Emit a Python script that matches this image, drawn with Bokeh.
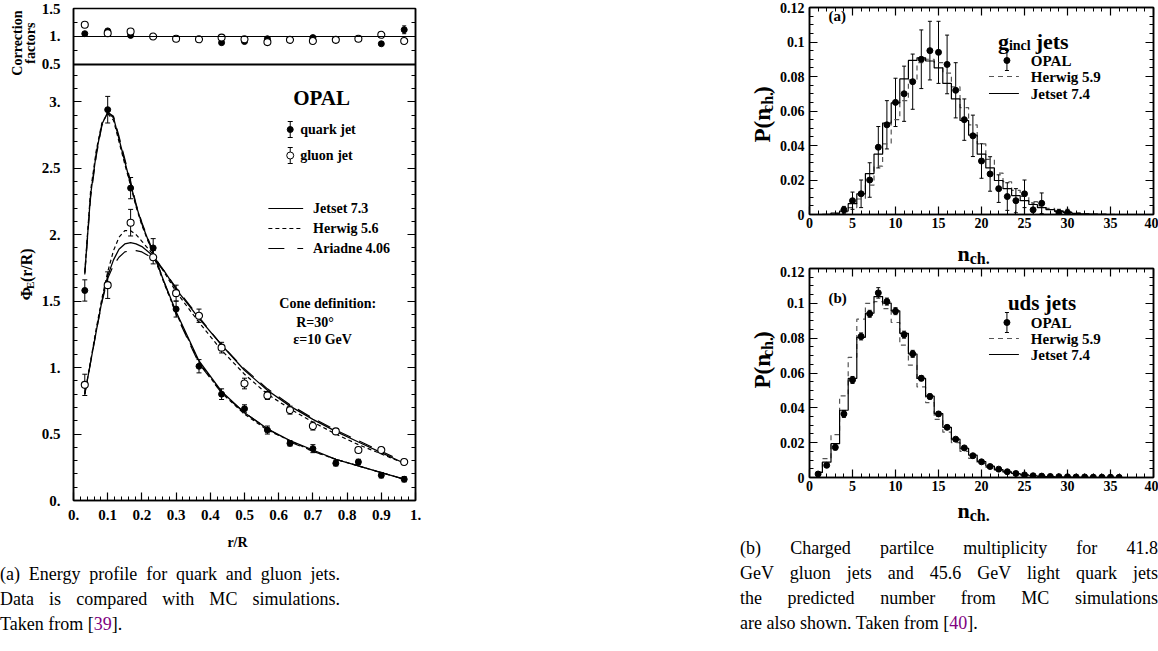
import math
from bokeh.plotting import figure
from bokeh.models import (Range1d, LinearAxis, FixedTicker, Label, Div, Spacer,
                          ColumnDataSource, Whisker, TeeHead, Span, CustomJSTickFormatter)
from bokeh.layouts import column, row
from bokeh.core.properties import value
from bokeh.embed import file_html
from bokeh.resources import INLINE

SERIF = "Liberation Serif"

# ---------------------------------------------------------------- data (left)
R_BINS = [0.033, 0.100, 0.167, 0.233, 0.300, 0.367, 0.433, 0.500, 0.567, 0.633, 0.700, 0.767, 0.833, 0.900, 0.967]
QUARK_PHI = [1.58, 2.94, 2.35, 1.90, 1.44, 1.01, 0.80, 0.69, 0.53, 0.43, 0.39, 0.28, 0.29, 0.19, 0.16]
QUARK_ERR = [0.08, 0.10, 0.08, 0.07, 0.06, 0.05, 0.04, 0.03, 0.03, 0.02, 0.03, 0.02, 0.02, 0.02, 0.02]
GLUON_PHI = [0.87, 1.62, 2.09, 1.83, 1.56, 1.39, 1.15, 0.88, 0.79, 0.68, 0.56, 0.52, 0.38, 0.38, 0.29]
GLUON_ERR = [0.08, 0.10, 0.10, 0.05, 0.06, 0.05, 0.04, 0.04, 0.03, 0.03, 0.03, 0.02, 0.02, 0.02, 0.02]

QUARK_CORR = [1.05, 1.10, 1.02, 1.00, 0.96, 0.95, 0.89, 0.91, 0.96, 0.94, 0.98, 0.94, 0.96, 0.87, 1.12]
QUARK_CORR_ERR = [0.01, 0.01, 0.01, 0.01, 0.01, 0.01, 0.01, 0.01, 0.01, 0.01, 0.01, 0.01, 0.01, 0.01, 0.07]
GLUON_CORR = [1.21, 1.06, 1.09, 1.00, 0.96, 0.95, 0.98, 0.95, 0.90, 0.94, 0.92, 0.94, 0.96, 1.03, 0.92]

R_CURVE = [0.033, 0.050, 0.067, 0.083, 0.100, 0.117, 0.133, 0.150, 0.167, 0.183, 0.200, 0.233,
           0.267, 0.300, 0.367, 0.433, 0.500, 0.567, 0.633, 0.700, 0.767, 0.833, 0.900, 0.967]
QUARK_JETSET = [1.71, 2.30, 2.62, 2.83, 2.92, 2.88, 2.72, 2.55, 2.38, 2.22, 2.08, 1.86,
                1.63, 1.42, 1.05, 0.82, 0.66, 0.54, 0.45, 0.38, 0.31, 0.26, 0.21, 0.16]
QUARK_HERWIG = [1.72, 2.33, 2.64, 2.84, 2.91, 2.86, 2.70, 2.53, 2.37, 2.21, 2.07, 1.85,
                1.62, 1.41, 1.04, 0.81, 0.65, 0.53, 0.45, 0.37, 0.31, 0.26, 0.21, 0.16]
QUARK_ARIADNE = [1.70, 2.28, 2.60, 2.82, 2.92, 2.89, 2.74, 2.57, 2.40, 2.23, 2.09, 1.87,
                 1.63, 1.40, 1.03, 0.81, 0.66, 0.54, 0.44, 0.37, 0.31, 0.26, 0.21, 0.16]
GLUON_JETSET = [0.80, 1.04, 1.28, 1.50, 1.69, 1.81, 1.89, 1.93, 1.94, 1.93, 1.91, 1.84,
                1.72, 1.59, 1.37, 1.17, 0.98, 0.83, 0.71, 0.61, 0.52, 0.44, 0.36, 0.28]
GLUON_HERWIG = [0.80, 1.05, 1.30, 1.52, 1.72, 1.88, 1.98, 2.03, 2.03, 2.00, 1.95, 1.85,
                1.71, 1.57, 1.34, 1.13, 0.95, 0.80, 0.69, 0.59, 0.50, 0.42, 0.35, 0.28]
GLUON_ARIADNE = [0.80, 1.04, 1.28, 1.49, 1.67, 1.77, 1.83, 1.87, 1.88, 1.88, 1.87, 1.82,
                 1.72, 1.60, 1.38, 1.17, 0.99, 0.84, 0.72, 0.62, 0.53, 0.45, 0.37, 0.29]

R_TICKS = [0.0, 0.1, 0.2, 0.3, 0.4, 0.5, 0.6, 0.7, 0.8, 0.9, 1.0]
R_MINOR = [k / 50 for k in range(51)]
PHI_TICKS = [0.0, 0.5, 1.0, 1.5, 2.0, 2.5, 3.0]
PHI_MINOR = [k / 10 for k in range(33)]
CORR_TICKS = [0.5, 1.0, 1.5]
CORR_MINOR = [0.75, 1.25]

# ---------------------------------------------------------------- data (right)
N_A_DATA = [4, 5, 6, 7, 8, 9, 10, 11, 12, 13, 14, 15, 16, 17, 18, 19, 20, 21, 22, 23, 24, 25, 26, 27, 29, 30]
OPAL_A = [0.0027, 0.008, 0.012, 0.020, 0.039, 0.052, 0.065, 0.070, 0.077, 0.090, 0.095, 0.094, 0.087,
          0.072, 0.055, 0.0456, 0.031, 0.0235, 0.015, 0.0104, 0.008, 0.012, 0.0027, 0.0065, 0.001, 0.001]
ERR_A = [0.002, 0.005, 0.008, 0.010, 0.012, 0.014, 0.014, 0.016, 0.016, 0.017, 0.017, 0.018, 0.017,
         0.016, 0.012, 0.012, 0.010, 0.010, 0.008, 0.008, 0.007, 0.008, 0.004, 0.006, 0.002, 0.002]

N_MC = [1, 2, 3, 4, 5, 6, 7, 8, 9, 10, 11, 12, 13, 14, 15, 16, 17, 18, 19, 20,
        21, 22, 23, 24, 25, 26, 27, 28, 29, 30, 31, 32, 33, 34, 35, 36, 37, 38]
JETSET_A = [0, 0.0001, 0.0008, 0.002, 0.0063, 0.012, 0.0237, 0.035, 0.053, 0.0647,
            0.0786, 0.0893, 0.0908, 0.089, 0.085, 0.076, 0.067, 0.0545, 0.046, 0.035,
            0.027, 0.0197, 0.015, 0.011, 0.008, 0.0058, 0.004, 0.0028, 0.0018, 0.0012,
            0.0007, 0.0004, 0.0002, 0.0001, 0, 0, 0, 0]
HERWIG_A = [0, 0, 0.0005, 0.0015, 0.004, 0.009, 0.017, 0.028, 0.041, 0.055,
            0.066, 0.078, 0.088, 0.090, 0.088, 0.082, 0.074, 0.062, 0.052, 0.041,
            0.032, 0.024, 0.019, 0.014, 0.0105, 0.0075, 0.005, 0.0035, 0.0022, 0.0014,
            0.0009, 0.0005, 0.0003, 0.0002, 0.0001, 0, 0, 0]

N_B_DATA = [1, 2, 3, 4, 5, 6, 7, 8, 9, 10, 11, 12, 13, 14, 15, 16, 17, 18,
            19, 20, 21, 22, 23, 24, 25, 26, 27, 28, 29, 30, 31, 32, 33, 34, 35, 36]
OPAL_B = [0.002, 0.007, 0.0173, 0.0365, 0.056, 0.081, 0.094, 0.106, 0.101, 0.0955,
          0.082, 0.071, 0.057, 0.0465, 0.0365, 0.0288, 0.022, 0.017, 0.0125, 0.009,
          0.0063, 0.0048, 0.0033, 0.0023, 0.0015, 0.001, 0.0008, 0.0006, 0.0005, 0.0004,
          0.0003, 0.0003, 0.0002, 0.0002, 0.0002, 0.0001]
ERR_B = [0.001, 0.001, 0.0015, 0.002, 0.002, 0.002, 0.002, 0.003, 0.002, 0.002,
         0.002, 0.002, 0.0015, 0.0015, 0.0012, 0.001, 0.001, 0.0008, 0.0008, 0.0006,
         0.0005, 0.0004, 0.0003, 0.0003, 0.0002, 0.0002, 0.0002, 0.0001, 0.0001, 0.0001,
         0.0001, 0.0001, 0.0001, 0.0001, 0.0001, 0.0001]
JETSET_B = [0.003, 0.0088, 0.0194, 0.0386, 0.0569, 0.0805, 0.0943, 0.1039, 0.1001, 0.0957,
            0.0828, 0.0709, 0.0569, 0.0467, 0.0367, 0.0288, 0.022, 0.0168, 0.0128, 0.0092,
            0.0065, 0.0046, 0.0033, 0.0023, 0.0015, 0.001, 0.0007, 0.0005, 0.0003, 0.0002,
            0.0001, 0.0001, 0, 0, 0, 0, 0, 0]
HERWIG_B = [0.003, 0.0108, 0.0246, 0.0469, 0.069, 0.0909, 0.100, 0.101, 0.097, 0.089,
            0.076, 0.0645, 0.052, 0.043, 0.0334, 0.026, 0.020, 0.015, 0.011, 0.008,
            0.0058, 0.0042, 0.003, 0.0021, 0.0014, 0.0009, 0.0006, 0.0004, 0.0003, 0.0002,
            0.0001, 0, 0, 0, 0, 0, 0, 0]

N_TICKS = [0, 5, 10, 15, 20, 25, 30, 35, 40]
N_MINOR = list(range(41))
P_TICKS = [0.0, 0.02, 0.04, 0.06, 0.08, 0.10, 0.12]
P_MINOR = [k * 0.005 for k in range(25)]

# ---------------------------------------------------------------- helpers
GLYPH_W = {'P': 611, '(': 333, ')': 333, 'n': 556, 'c': 444, 'h': 556, '.': 250, 'Φ': 760,
           'E': 667, 'r': 444, '/': 278, 'R': 722, 'g': 500, 'i': 278, 'l': 278, ' ': 250,
           'j': 333, 'e': 444, 't': 333, 's': 389, 'u': 556, 'd': 556}


def text_width(s, size):
    return sum(GLYPH_W.get(ch, 500) for ch in s) * size / 1000.0


# left panel geometry: one frame holding the energy profile (main range) and,
# on top, the correction-factor strip (its own "corr" range)
PANEL_SPLIT = 3.28          # top of the energy-profile panel, in main units
CORR_UNIT = 0.42127         # one correction-factor unit expressed in main units
LEFT_TOP = PANEL_SPLIT + CORR_UNIT


def corr_to_main(v):
    return PANEL_SPLIT + (v - CORR_TICKS[0]) * CORR_UNIT


LEFT_FMT = """
let v = tick;
if (tick > %f) { v = %f + (tick - %f) / %f; }
v = Math.round(v * 100) / 100;
const s = v.toString();
return s.indexOf('.') >= 0 ? s : s + '.';
""" % (PANEL_SPLIT - 0.05, CORR_TICKS[0], PANEL_SPLIT, CORR_UNIT)
R_FMT = """
const v = Math.round(tick * 100) / 100;
const s = v.toString();
return s.indexOf('.') >= 0 ? s : s + '.';
"""
P_FMT = "return (Math.round(tick * 1000) / 1000).toString();"
N_FMT = "return Math.round(tick).toString();"
EMPTY_FMT = "return '';"


class Panel:
    """Figure with the absolute page position of its frame, for placing in-frame texts."""

    def __init__(self, fig, fx0, fx1, fy0, fy1):
        self.fig, self.fx0, self.fx1, self.fy0, self.fy1 = fig, fx0, fx1, fy0, fy1

    def to_data(self, px, py):
        xr, yr = self.fig.x_range, self.fig.y_range
        x = xr.start + (px - self.fx0) / (self.fx1 - self.fx0) * (xr.end - xr.start)
        y = yr.start + (self.fy1 - py) / (self.fy1 - self.fy0) * (yr.end - yr.start)
        return x, y

    def label(self, px, py, text, size, align="left", baseline="middle", style="bold"):
        x, y = self.to_data(px, py)
        self.fig.add_layout(Label(x=x, y=y, text=text, text_font=SERIF, text_font_style=style,
                                  text_font_size=f"{size}px", text_align=align,
                                  text_baseline=baseline, text_color="black"))

    def rich(self, px, py, parts):
        """parts: (text, size, baseline drop, gap before); px/py give the baseline start."""
        for text, size, drop, gap in parts:
            px += gap
            self.label(px, py + drop, text, size, baseline="alphabetic")
            px += text_width(text, size)


class Strip:
    """Axis-less figure used as a text area for axis titles (page-pixel placement)."""

    def __init__(self, width, height, ox, oy):
        p = figure(width=width, height=height, x_range=Range1d(0, width), y_range=Range1d(0, height),
                   output_backend="svg", toolbar_location=None, min_border=0,
                   x_axis_location=None, y_axis_location=None)
        p.grid.visible = False
        p.outline_line_color = None
        p.background_fill_color = "white"
        p.border_fill_color = "white"
        self.fig, self.h, self.ox, self.oy = p, height, ox, oy

    def text(self, px, py, text, size, angle=0.0, align="left", baseline="alphabetic"):
        self.fig.text(x=[px - self.ox], y=[self.h - (py - self.oy)], text=[text], angle=angle,
                      text_font=value(SERIF), text_font_style="bold",
                      text_font_size=value(f"{size}px"), text_align=align,
                      text_baseline=baseline, text_color="black")

    def rich(self, px, py, parts, vertical=False):
        for text, size, drop, gap in parts:
            if vertical:
                py -= gap
                self.text(px + drop, py, text, size, angle=math.pi / 2)
                py -= text_width(text, size)
            else:
                px += gap
                self.text(px, py + drop, text, size)
                px += text_width(text, size)


def make_fig(w, h, xr, yr, ml, mr, mt, mb):
    p = figure(width=w, height=h, x_range=Range1d(*xr), y_range=Range1d(*yr),
               output_backend="svg", toolbar_location=None,
               min_border_left=ml, min_border_right=mr, min_border_top=mt, min_border_bottom=mb)
    p.grid.visible = False
    p.outline_line_color = "black"
    p.outline_line_width = 1.5
    p.background_fill_color = "white"
    p.border_fill_color = "white"
    return p


def style_axis(ax, ticks, minors, code, size, standoff, tin, minin):
    ax.ticker = FixedTicker(ticks=ticks, minor_ticks=minors)
    ax.formatter = CustomJSTickFormatter(code=code)
    ax.major_tick_in = tin
    ax.major_tick_out = 0
    ax.minor_tick_in = minin
    ax.minor_tick_out = 0
    ax.major_tick_line_color = "black"
    ax.minor_tick_line_color = "black"
    ax.major_tick_line_width = 1.2
    ax.axis_line_color = "black"
    ax.axis_line_width = 1.5
    ax.major_label_text_font = SERIF
    ax.major_label_text_font_style = "bold"
    ax.major_label_text_font_size = f"{size}px"
    ax.major_label_text_color = "black"
    ax.major_label_standoff = standoff


def mirror_axis(p, side, ticks, minors, tin, minin):
    ax = LinearAxis()
    style_axis(ax, ticks, minors, EMPTY_FMT, 1, 0, tin, minin)
    p.add_layout(ax, side)


def error_bars(p, xs, ys, errs, head=5, width=1.0, y_range_name="default"):
    src = ColumnDataSource(dict(x=xs, u=[y + e for y, e in zip(ys, errs)],
                                l=[y - e for y, e in zip(ys, errs)]))
    p.add_layout(Whisker(source=src, base="x", upper="u", lower="l", line_color="black",
                         line_width=width, y_range_name=y_range_name,
                         upper_head=TeeHead(size=head, line_color="black", line_width=width),
                         lower_head=TeeHead(size=head, line_color="black", line_width=width)))


# ---------------------------------------------------------------- left panel
main = make_fig(412, 526, (0, 1), (0, LEFT_TOP), 33, 35, 8, 26)
main.extra_y_ranges = {"corr": Range1d(CORR_TICKS[0] - PANEL_SPLIT / CORR_UNIT, CORR_TICKS[-1])}
left_ticks = PHI_TICKS + [corr_to_main(v) for v in CORR_TICKS]
left_minor = PHI_MINOR + [corr_to_main(v) for v in CORR_MINOR]
style_axis(main.xaxis[0], R_TICKS, R_MINOR, R_FMT, 15, 9, 8, 4)
style_axis(main.yaxis[0], left_ticks, left_minor, LEFT_FMT, 15, 13, 8, 4)
mirror_axis(main, "right", left_ticks, left_minor, 8, 4)
main.add_layout(Span(location=PANEL_SPLIT, dimension="width", line_color="black", line_width=2))

# correction factors strip
main.add_layout(Span(location=1.0, dimension="width", line_color="black", line_width=1.2,
                     y_range_name="corr"))
error_bars(main, R_BINS, QUARK_CORR, QUARK_CORR_ERR, head=4, y_range_name="corr")
main.scatter(R_BINS, QUARK_CORR, marker="circle", size=6, fill_color="black", line_color="black",
             y_range_name="corr")
main.scatter(R_BINS, GLUON_CORR, marker="circle", size=7, fill_color="white", line_color="black",
             line_width=1.1, y_range_name="corr")

# energy profile
for ys in (QUARK_JETSET, GLUON_JETSET):
    main.line(R_CURVE, ys, line_color="black", line_width=1.3)
for ys in (QUARK_HERWIG, GLUON_HERWIG):
    main.line(R_CURVE, ys, line_color="black", line_width=1.2, line_dash="4 3")
for ys in (QUARK_ARIADNE, GLUON_ARIADNE):
    main.line(R_CURVE, ys, line_color="black", line_width=1.2, line_dash="14 9")

error_bars(main, R_BINS, QUARK_PHI, QUARK_ERR)
error_bars(main, R_BINS, GLUON_PHI, GLUON_ERR)
main.scatter(R_BINS, QUARK_PHI, marker="circle", size=6, fill_color="black", line_color="black")
main.scatter(R_BINS, GLUON_PHI, marker="circle", size=7, fill_color="white", line_color="black",
             line_width=1.1)

pm = Panel(main, 71, 415, 8, 500)
pm.label(292, 97, "OPAL", 21)
for py, fill in ((129, "black"), (155, "white")):
    mx, my = pm.to_data(289, py)
    _, top = pm.to_data(289, py - 8)
    error_bars(main, [mx], [my], [top - my], head=5)
    main.scatter([mx], [my], marker="circle", size=6 if fill == "black" else 7,
                 fill_color=fill, line_color="black")
pm.label(299, 129, "quark jet", 14)
pm.label(299, 155, "gluon jet", 14)
for py, dash, txt in ((208, "solid", "Jetset 7.3"), (228, "4 3", "Herwig 5.6"),
                      (248, "16 13", "Ariadne 4.06")):
    x0, y0 = pm.to_data(267, py)
    x1, _ = pm.to_data(302, py)
    main.line([x0, x1], [y0, y0], line_color="black", line_width=1.2, line_dash=dash)
    pm.label(312, py, txt, 14)
pm.label(278, 303, "Cone definition:", 14)
pm.label(295, 322, "R=30°", 14)
pm.label(292, 339, "ε=10 GeV", 14)

# left title strips
ls = Strip(38, 526, 0, 0)
ls.text(17, 37, "Correction", 14, angle=math.pi / 2, align="center", baseline="middle")
ls.text(30, 37, "factors", 14, angle=math.pi / 2, align="center", baseline="middle")
ls.rich(26, 312, [("Φ", 16, 0, 0), ("E", 11, 3, 0), ("(r/R)", 16, 0, 0)], vertical=True)
xs_left = Strip(450, 28, 0, 526)
xs_left.text(237, 542, "r/R", 14, align="center")


# ---------------------------------------------------------------- right panels
def mult_panel(h, mt, mb, fy0, fy1, n_data, opal, err, jetset, herwig):
    p = make_fig(382, h, (0, 40), (0, 0.12), 32, 5, mt, mb)
    style_axis(p.xaxis[0], N_TICKS, N_MINOR, N_FMT, 14, 3, 8, 4)
    style_axis(p.yaxis[0], P_TICKS, P_MINOR, P_FMT, 14, 5, 8, 4)
    mirror_axis(p, "right", P_TICKS, P_MINOR, 8, 4)
    mirror_axis(p, "above", N_TICKS, N_MINOR, 8, 4)
    p.step(N_MC, herwig, mode="center", line_color="#555555", line_width=1.2, line_dash="5 4")
    p.step(N_MC, jetset, mode="center", line_color="black", line_width=1.2)
    error_bars(p, n_data, opal, err, head=4)
    p.scatter(n_data, opal, marker="circle", size=6, fill_color="black", line_color="black")
    return p, Panel(p, 808, 1153, fy0, fy1)


pa, qa = mult_panel(233, 7, 19, 7, 214, N_A_DATA, OPAL_A, ERR_A, JETSET_A, HERWIG_A)
pb, qb = mult_panel(230, 2, 19, 268, 477, N_B_DATA, OPAL_B, ERR_B, JETSET_B, HERWIG_B)


def mult_legend(q, p, tag, tag_y, title_parts, title_x, title_y, marker_y, herwig_y, jetset_y):
    q.label(827, tag_y, tag, 15)
    q.rich(title_x, title_y, title_parts)
    mx, my = q.to_data(1006, marker_y)
    _, top = q.to_data(1006, marker_y - 10)
    error_bars(p, [mx], [my], [top - my], head=4)
    p.scatter([mx], [my], marker="circle", size=6, fill_color="black", line_color="black")
    q.label(1030, marker_y, "OPAL", 15)
    for py, col, dash, txt in ((herwig_y, "#555555", "5 4", "Herwig 5.9"),
                               (jetset_y, "black", "solid", "Jetset 7.4")):
        x0, y0 = q.to_data(988, py)
        x1, _ = q.to_data(1018, py)
        p.line([x0, x1], [y0, y0], line_color=col, line_width=1.2, line_dash=dash)
        q.label(1030, py, txt, 15)


mult_legend(qa, pa, "(a)", 15, [("g", 22, 0, 0), ("incl", 14, 4, 0), ("jets", 22, 0, 5)],
            997, 41, 60, 76, 93)
mult_legend(qb, pb, "(b)", 297, [("uds jets", 21, 0, 0)], 1007, 302, 322, 338, 354)

# right title strips
ya = Strip(36, 233, 740, 0)
ya.rich(762, 152, [("P(n", 23, 0, 0), ("ch.", 16, 5, 0), (")", 23, 0, 0)], vertical=True)
yb = Strip(36, 230, 740, 266)
yb.rich(762, 398, [("P(n", 23, 0, 0), ("ch.", 16, 5, 0), (")", 23, 0, 0)], vertical=True)
xa = Strip(418, 33, 740, 233)
xa.rich(957, 253, [("n", 22, 0, 0), ("ch.", 16, 5, 0)])
xb = Strip(418, 34, 740, 496)
xb.rich(957, 510, [("n", 22, 0, 0), ("ch.", 16, 5, 0)])

# ---------------------------------------------------------------- captions
CAP_STYLE = "font-family:'Liberation Serif';font-size:18px;line-height:25px;color:#000;"
JUST = "text-align:justify;text-align-last:justify;white-space:nowrap;"
PURPLE = "#800080"

cap_left = Div(text=(
    f"<div style=\"{CAP_STYLE}width:340px;padding-top:8px;\">"
    f"<div style=\"{JUST}\">(a) Energy profile for quark and gluon jets.</div>"
    f"<div style=\"{JUST}\">Data is compared with MC simulations.</div>"
    f"<div style=\"white-space:nowrap;\">Taken from [<span style=\"color:{PURPLE}\">39</span>].</div>"
    "</div>"), width=450, height=97, margin=(0, 0, 0, 0))

cap_right = Div(text=(
    f"<div style=\"{CAP_STYLE}width:418px;padding-top:6px;\">"
    f"<div style=\"{JUST}\">(b) Charged partilce multiplicity for 41.8</div>"
    f"<div style=\"{JUST}\">GeV gluon jets and 45.6 GeV light quark jets</div>"
    f"<div style=\"{JUST}\">the predicted number from MC simulations</div>"
    f"<div style=\"white-space:nowrap;\">are also shown. Taken from [<span style=\"color:{PURPLE}\">40</span>].</div>"
    "</div>"), width=418, height=121, margin=(0, 0, 0, 0))

left = column(row(ls.fig, main), xs_left.fig, cap_left)
right = column(row(ya.fig, pa), xa.fig, row(yb.fig, pb), xb.fig, cap_right)
page = row(left, Spacer(width=290, height=651), right)

open("out.html", "w").write(file_html(page, INLINE, title="OPAL jets"))
